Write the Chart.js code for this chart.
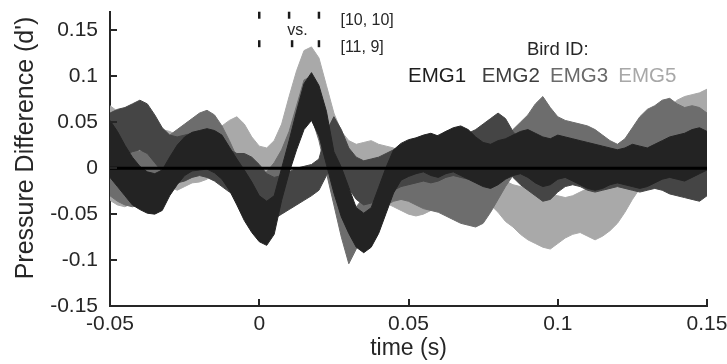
<!DOCTYPE html>
<html><head><meta charset="utf-8">
<script src="https://cdn.jsdelivr.net/npm/chart.js@4/dist/chart.umd.min.js"></script>
<style>html,body{margin:0;padding:0;background:#fff;}canvas{display:block;}</style>
</head><body>
<canvas id="c" width="727" height="364" style="width:727px;height:364px"></canvas>
<script>
const times = [-0.05,-0.0475,-0.045,-0.0425,-0.04,-0.0375,-0.035,-0.0325,-0.03,-0.0275,-0.025,-0.0225,-0.02,-0.0175,-0.015,-0.0125,-0.01,-0.0075,-0.005,-0.0025,0,0.0025,0.005,0.0075,0.01,0.0125,0.015,0.0175,0.02,0.0225,0.025,0.0275,0.03,0.0325,0.035,0.0375,0.04,0.0425,0.045,0.0475,0.05,0.0525,0.055,0.0575,0.06,0.0625,0.065,0.0675,0.07,0.0725,0.075,0.0775,0.08,0.0825,0.085,0.0875,0.09,0.0925,0.095,0.0975,0.1,0.1025,0.105,0.1075,0.11,0.1125,0.115,0.1175,0.12,0.1225,0.125,0.1275,0.13,0.1325,0.135,0.1375,0.14,0.1425,0.145,0.1475,0.15];

const emg1Upper = [0.052,0.040,0.025,0.012,0.002,-0.004,-0.006,-0.002,0.012,0.025,0.034,0.039,0.041,0.043,0.041,0.036,0.023,0.010,-0.002,-0.015,-0.030,-0.036,
-0.030,0.000,0.030,0.062,0.092,0.104,0.090,0.062,0.018,0.001,-0.021,-0.043,-0.049,-0.043,-0.021,0.001,0.020,0.027,0.031,
0.033,0.036,0.038,0.035,0.040,0.044,0.046,0.042,0.034,0.028,0.026,0.030,0.032,0.036,0.040,0.042,0.038,0.034,0.032,0.036,0.034,0.032,0.030,0.028,0.026,0.024,0.022,0.020,0.022,0.026,0.024,0.022,0.026,0.030,0.034,0.036,0.038,0.042,0.044,0.040];
const emg1Lower = [-0.010,-0.020,-0.030,-0.040,-0.045,-0.049,-0.050,-0.046,-0.030,-0.018,-0.008,-0.003,-0.002,-0.001,-0.005,-0.012,-0.024,-0.040,-0.057,-0.070,-0.080,-0.084,
-0.072,-0.035,-0.005,0.020,0.042,0.052,0.035,0.004,-0.027,-0.053,-0.071,-0.086,-0.092,-0.086,-0.071,-0.049,-0.027,-0.013,-0.009,
-0.006,-0.004,-0.008,-0.010,-0.006,-0.004,-0.008,-0.012,-0.016,-0.020,-0.022,-0.018,-0.012,-0.008,-0.006,-0.010,-0.016,-0.020,-0.018,-0.012,-0.010,-0.014,-0.018,-0.022,-0.024,-0.022,-0.018,-0.016,-0.018,-0.020,-0.022,-0.020,-0.016,-0.012,-0.010,-0.012,-0.014,-0.010,-0.006,-0.002];

const emg2Upper = [0.060,0.064,0.066,0.070,0.074,0.070,0.058,0.044,0.036,0.034,
0.036,0.038,0.040,0.038,0.034,0.028,0.020,0.016,0.016,0.012,
0.004,-0.006,-0.010,-0.008,-0.004,0.000,0.002,0.004,0.010,0.040,
0.056,0.042,0.022,0.012,0.008,0.010,0.012,0.016,0.020,0.024,
0.026,0.028,0.030,0.032,0.036,0.040,0.042,0.040,0.038,0.042,
0.048,0.054,0.060,0.054,0.040,0.030,0.024,0.022,0.020,0.020,
0.024,0.026,0.026,0.024,0.022,0.020,0.018,0.016,0.014,0.014,
0.016,0.018,0.020,0.018,0.016,0.014,0.012,0.010,0.010,0.012,0.016];
const emg2Lower = [0.000,0.008,0.014,0.018,0.020,0.016,0.006,-0.004,-0.012,-0.016,
-0.014,-0.010,-0.008,-0.010,-0.014,-0.020,-0.026,-0.030,-0.032,-0.036,
-0.044,-0.052,-0.055,-0.050,-0.045,-0.040,-0.035,-0.030,-0.024,-0.008,
0.006,-0.006,-0.022,-0.034,-0.040,-0.038,-0.032,-0.028,-0.024,-0.020,
-0.018,-0.016,-0.014,-0.016,-0.014,-0.010,-0.008,-0.010,-0.012,-0.008,
-0.004,0.000,0.004,0.000,-0.010,-0.018,-0.024,-0.030,-0.036,-0.034,
-0.026,-0.020,-0.018,-0.020,-0.024,-0.026,-0.024,-0.022,-0.020,-0.022,
-0.024,-0.026,-0.024,-0.022,-0.024,-0.028,-0.030,-0.032,-0.034,-0.036,-0.030];

const emg3Upper = [0.030,0.028,0.024,0.020,0.018,0.020,0.024,0.030,0.036,0.042,
0.048,0.054,0.060,0.063,0.058,0.046,0.030,0.012,0.000,-0.006,
-0.008,-0.004,0.006,0.020,0.040,0.068,0.096,0.100,0.084,0.055,
0.020,-0.015,-0.045,-0.042,-0.032,-0.022,-0.012,-0.004,0.004,0.008,
0.010,0.008,0.006,0.004,0.002,0.000,-0.002,-0.006,-0.008,-0.010,
-0.006,0.004,0.016,0.030,0.042,0.050,0.058,0.070,0.078,0.066,
0.056,0.052,0.050,0.048,0.046,0.042,0.036,0.030,0.026,0.032,
0.044,0.056,0.064,0.068,0.074,0.076,0.070,0.066,0.068,0.066,0.060];
const emg3Lower = [-0.030,-0.036,-0.040,-0.042,-0.040,-0.036,-0.030,-0.024,-0.018,-0.012,
-0.008,-0.004,0.000,0.004,0.002,-0.008,-0.020,-0.034,-0.046,-0.056,
-0.060,-0.058,-0.046,-0.026,-0.004,0.024,0.050,0.056,0.030,-0.005,
-0.040,-0.075,-0.104,-0.088,-0.068,-0.054,-0.046,-0.040,-0.036,-0.034,
-0.036,-0.040,-0.044,-0.046,-0.048,-0.052,-0.056,-0.060,-0.062,-0.064,
-0.060,-0.048,-0.034,-0.020,-0.008,0.002,0.010,0.018,0.022,0.020,
0.014,0.010,0.008,0.006,0.004,0.002,-0.002,-0.006,-0.008,-0.004,
0.004,0.012,0.018,0.020,0.022,0.020,0.016,0.012,0.010,0.008,0.006];

const emg5Upper = [0.068,0.062,0.045,0.035,0.032,0.030,0.038,0.042,0.040,0.036,
0.038,0.036,0.030,0.034,0.040,0.046,0.052,0.056,0.048,0.034,
0.024,0.022,0.030,0.048,0.078,0.106,0.128,0.132,0.120,0.090,
0.060,0.040,0.030,0.026,0.028,0.030,0.026,0.024,0.022,0.018,
0.012,0.008,0.006,0.004,0.002,0.000,-0.002,0.000,0.002,-0.002,
-0.006,-0.008,-0.010,-0.014,-0.018,-0.020,-0.022,-0.024,-0.026,-0.028,
-0.030,-0.032,-0.030,-0.026,-0.022,-0.020,-0.018,-0.016,-0.010,0.000,
0.012,0.024,0.036,0.046,0.056,0.066,0.074,0.078,0.080,0.082,0.086];
const emg5Lower = [-0.035,-0.040,-0.042,-0.038,-0.030,-0.025,-0.020,-0.018,-0.020,-0.024,
-0.020,-0.016,-0.015,-0.012,-0.004,0.000,0.002,0.004,-0.002,-0.012,
-0.018,-0.016,-0.008,0.000,0.008,0.030,0.055,0.066,0.052,0.032,
0.010,-0.006,-0.016,-0.022,-0.026,-0.030,-0.034,-0.038,-0.042,-0.046,
-0.050,-0.052,-0.050,-0.046,-0.042,-0.040,-0.038,-0.040,-0.044,-0.046,
-0.044,-0.040,-0.048,-0.058,-0.064,-0.072,-0.078,-0.082,-0.086,-0.088,
-0.082,-0.076,-0.072,-0.070,-0.074,-0.078,-0.074,-0.068,-0.060,-0.048,
-0.034,-0.022,-0.012,-0.004,0.004,0.012,0.018,0.022,0.024,0.026,0.028];

const seriesNames = ['EMG1','EMG2','EMG3','EMG5'];
const seriesColors = ['#232323','#454545','#6d6d6d','#a9a9a9'];
const legendColors = ['#1e1e1e','#3e3e3e','#6a6a6a','#a8a8a8'];
const xTickValues = [-0.05,0,0.05,0.1,0.15];
const xTickLabels = ['-0.05','0','0.05','0.1','0.15'];
const yTickValues = [-0.15,-0.1,-0.05,0,0.05,0.1,0.15];
const yTickLabels = ['-0.15','-0.1','-0.05','0','0.05','0.1','0.15'];
const intervalMarksA = [0,0.010,0.020];
const intervalMarksB = [0,0.011,0.020];
const intervalLabels = ['[10, 10]','[11, 9]'];
const zeroLineX = [-0.05,0.15];
const zeroLineY = [0,0];

const uppers = [emg1Upper,emg2Upper,emg3Upper,emg5Upper];
const lowers = [emg1Lower,emg2Lower,emg3Lower,emg5Lower];
const FONT = "'Liberation Sans', Arial, Helvetica, sans-serif";
const TXT = '#262626';

const datasets = [];
datasets.push({type:'line', label:'zero', data: zeroLineX.map((x,i)=>({x:x,y:zeroLineY[i]})),
  borderColor:'#000', borderWidth:3, pointRadius:0, fill:false, order:0});
datasets.push({type:'scatter', label:'marksA', data: intervalMarksA.map(x=>({x:x,y:0.1665})),
  pointStyle:'line', rotation:90, pointRadius:3.5, borderColor:'#1a1a1a', borderWidth:2.5, backgroundColor:'#1a1a1a', order:0, clip:false});
datasets.push({type:'scatter', label:'marksB', data: intervalMarksB.map(x=>({x:x,y:0.1355})),
  pointStyle:'line', rotation:90, pointRadius:3.5, borderColor:'#1a1a1a', borderWidth:2.5, backgroundColor:'#1a1a1a', order:0, clip:false});
seriesNames.forEach((name,k)=>{
  datasets.push({type:'line', label:name+' upper', data: times.map((t,i)=>({x:t,y:uppers[k][i]})),
    borderColor:seriesColors[k], borderWidth:1, pointRadius:0, tension:0, fill:false, order:k+1});
  datasets.push({type:'line', label:name+' lower', data: times.map((t,i)=>({x:t,y:lowers[k][i]})),
    borderColor:seriesColors[k], borderWidth:1, pointRadius:0, tension:0, fill:'-1', backgroundColor:seriesColors[k], order:k+1});
});

const annotate = {
  id:'annotate',
  afterDraw(chart){
    const ctx = chart.ctx, xs = chart.scales.x, ys = chart.scales.y, ca = chart.chartArea;
    ctx.save();
    ctx.strokeStyle = TXT; ctx.lineWidth = 2;
    yTickValues.forEach(v=>{ const y = Math.round(ys.getPixelForValue(v));
      ctx.beginPath(); ctx.moveTo(ca.left, y); ctx.lineTo(ca.left+7, y); ctx.stroke(); });
    xTickValues.forEach(v=>{ const x = Math.round(xs.getPixelForValue(v));
      ctx.beginPath(); ctx.moveTo(x, ca.bottom); ctx.lineTo(x, ca.bottom-7); ctx.stroke(); });
    ctx.fillStyle = TXT;
    ctx.font = '16px ' + FONT; ctx.textAlign = 'center'; ctx.textBaseline = 'alphabetic';
    ctx.fillText('vs.', xs.getPixelForValue(0.0128), 35);
    ctx.textAlign = 'left';
    ctx.fillText(intervalLabels[0], xs.getPixelForValue(0.0272), 25);
    ctx.fillText(intervalLabels[1], xs.getPixelForValue(0.0272), 52);
    ctx.font = '18.5px ' + FONT; ctx.textAlign = 'center';
    ctx.fillText('Bird ID:', xs.getPixelForValue(0.1), 55);
    ctx.font = '20.5px ' + FONT; ctx.textAlign = 'left';
    const lx = [408, 481.7, 550, 618.3];
    seriesNames.forEach((n,k)=>{ ctx.fillStyle = legendColors[k]; ctx.fillText(n, lx[k], 81.5); });
    ctx.fillStyle = TXT;
    ctx.font = '23px ' + FONT; ctx.textAlign = 'center';
    ctx.fillText('time (s)', (ca.left+ca.right)/2, 355);
    ctx.save();
    ctx.translate(33, 148); ctx.rotate(-Math.PI/2);
    ctx.font = '25px ' + FONT; ctx.textAlign = 'center'; ctx.textBaseline = 'alphabetic';
    ctx.fillText("Pressure Difference (d')", 0, 0);
    ctx.restore();
    ctx.restore();
  }
};

new Chart(document.getElementById('c'), {
  data:{datasets:datasets},
  options:{
    responsive:false, animation:false, devicePixelRatio:1,
    layout:{padding:{top:12,right:20,left:0,bottom:0}},
    plugins:{legend:{display:false}, tooltip:{enabled:false}},
    scales:{
      x:{type:'linear', min:-0.05, max:0.15,
        afterBuildTicks:(s)=>{ s.ticks = xTickValues.map(v=>({value:v})); },
        afterFit:(s)=>{ s.height = 58; s.paddingLeft = 0; s.paddingRight = 0; },
        grid:{display:false, drawTicks:false},
        border:{display:true, color:TXT, width:2},
        ticks:{color:TXT, padding:6, maxRotation:0, autoSkip:false, font:{family:FONT, size:21},
          callback:(v,i)=>xTickLabels[i]}
      },
      y:{type:'linear', min:-0.15, max:0.17,
        afterBuildTicks:(s)=>{ s.ticks = yTickValues.map(v=>({value:v})); },
        afterFit:(s)=>{ s.width = 110; s.paddingTop = 0; s.paddingBottom = 0; },
        grid:{display:false, drawTicks:false},
        border:{display:true, color:TXT, width:2},
        ticks:{color:TXT, padding:12, autoSkip:false, font:{family:FONT, size:21},
          callback:(v,i)=>yTickLabels[i]}
      }
    }
  },
  plugins:[annotate]
});
</script>
</body></html>
